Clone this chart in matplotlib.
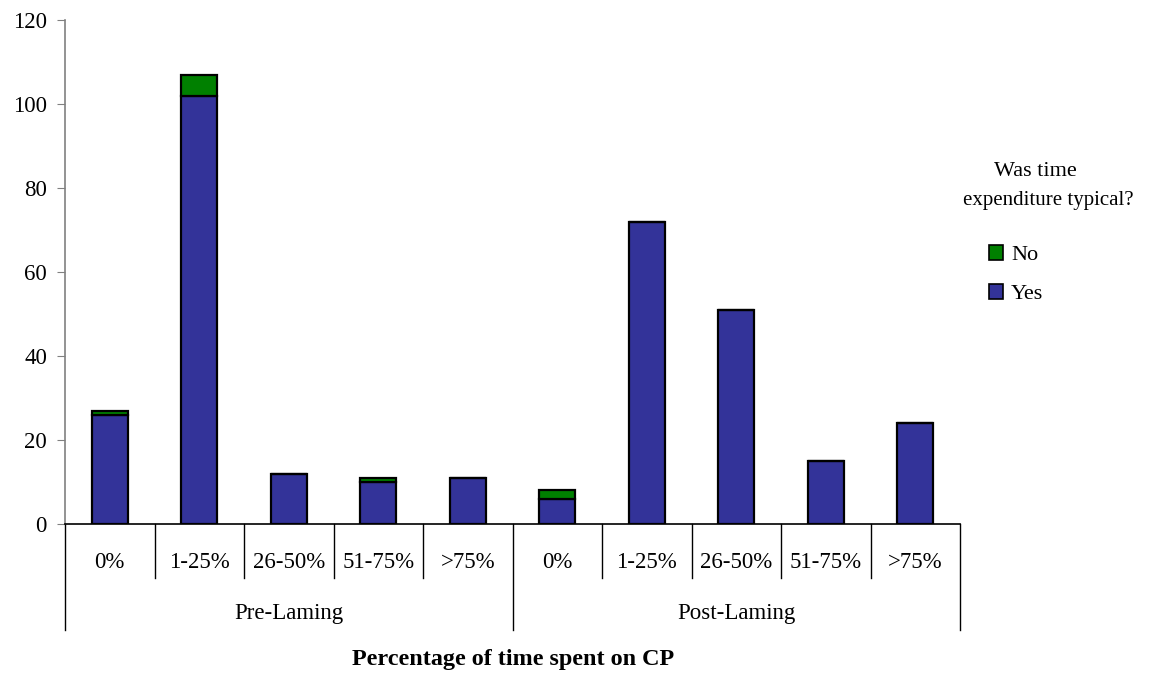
import matplotlib
matplotlib.use("Agg")
import matplotlib.pyplot as plt
from matplotlib.patches import Patch
from matplotlib.transforms import blended_transform_factory

plt.rcParams['font.family'] = ['Liberation Serif', 'DejaVu Serif']

groups = ["Pre-Laming", "Post-Laming"]
categories = ["0%", "1-25%", "26-50%", "51-75%", ">75%"]
yes_values = [26, 102, 12, 10, 11, 6, 72, 51, 15, 24]
no_values = [1, 5, 0, 1, 0, 2, 0, 0, 0, 0]

blue = "#333399"
green = "#008000"

W, H = 1149, 673
fig = plt.figure(figsize=(W / 100, H / 100), dpi=100)
ax = fig.add_axes([65 / W, 1 - 524 / H, (960 - 65) / W, (524 - 20) / H])

n = len(yes_values)
x = [i + 0.5 for i in range(n)]
ax.bar(x, yes_values, width=0.4, color=blue, edgecolor="black", linewidth=1.6, zorder=3)
ax.bar(x, no_values, bottom=yes_values, width=0.4, color=green, edgecolor="black",
       linewidth=1.6, zorder=3)

ax.set_xlim(0, n)
ax.set_ylim(0, 120)
ax.set_yticks(range(0, 121, 20))
ax.tick_params(axis="y", labelsize=16.5, length=6, color="#808080", direction="out", pad=7)
ax.set_xticks([])
for s in ("top", "right"):
    ax.spines[s].set_visible(False)
ax.spines["left"].set_color("#808080")
ax.spines["left"].set_linewidth(1.2)
ax.spines["bottom"].set_color("black")
ax.spines["bottom"].set_linewidth(1.2)

# two-level category axis
tr = blended_transform_factory(ax.transData, fig.transFigure)
y0 = 1 - 524 / H
y_short = 1 - 578 / H
y_long = 1 - 630 / H
for b in range(n + 1):
    yend = y_long if b % len(categories) == 0 else y_short
    ax.plot([b, b], [y0, yend], transform=tr, color="black", lw=1.0, clip_on=False)

labels = categories * len(groups)
for xi, lab in zip(x, labels):
    ax.text(xi, 1 - 563 / H, lab, transform=tr, ha="center", va="center", fontsize=16.5)
for gi, g in enumerate(groups):
    ax.text(gi * len(categories) + len(categories) / 2, 1 - 614 / H, g, transform=tr,
            ha="center", va="center", fontsize=16.5)

fig.text(513 / W, 1 - 660 / H, "Percentage of time spent on CP", ha="center", va="center",
         fontsize=17.4, fontweight="bold")

# legend
fig.text(1035 / W, 1 - 172 / H, "Was time", ha="center", va="center", fontsize=16)
fig.text(1048 / W, 1 - 200 / H, "expenditure typical?", ha="center", va="center", fontsize=15)
handles = [Patch(facecolor=green, edgecolor="black", linewidth=1.2),
           Patch(facecolor=blue, edgecolor="black", linewidth=1.2)]
fig.legend(handles, ["No", "Yes"], loc="upper left", bbox_to_anchor=(989 / W, 1 - 245 / H),
           frameon=False, fontsize=16, handlelength=0.65, handleheight=0.65,
           handletextpad=0.35, labelspacing=0.85, borderpad=0, borderaxespad=0)

fig.savefig("out.png", dpi=100)
